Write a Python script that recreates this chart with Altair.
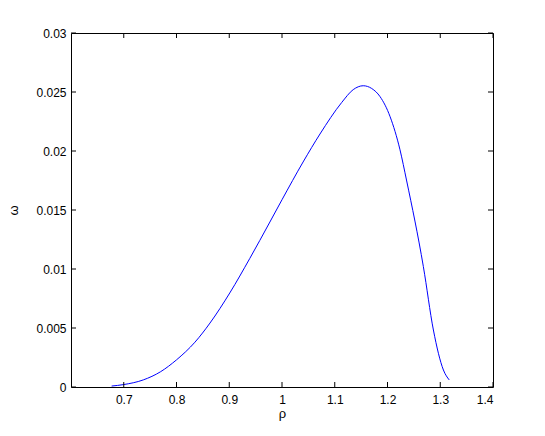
import altair as alt
import pandas as pd

rho = [0.677, 0.699, 0.737, 0.770, 0.800, 0.835, 0.8635, 0.901, 0.939, 0.977, 1.000,
       1.040, 1.072, 1.113, 1.135, 1.154, 1.170, 1.186, 1.205, 1.2237, 1.236,
       1.268, 1.287, 1.306, 1.317]
omega = [0.00008, 0.0002, 0.0006, 0.0013, 0.0023, 0.0038, 0.00542, 0.00797, 0.0109, 0.01398,
         0.01587, 0.01907, 0.02144, 0.0241, 0.0252, 0.02553, 0.0253, 0.0246, 0.0229,
         0.0201, 0.01754, 0.0102, 0.00483, 0.00144, 0.0006]

x_ticks = [0.7, 0.8, 0.9, 1.0, 1.1, 1.2, 1.3, 1.4]
y_ticks = [0, 0.005, 0.01, 0.015, 0.02, 0.025, 0.03]

W, H = 422, 354
TL = 5

df = pd.DataFrame({"rho": rho, "omega": omega})
xt = pd.DataFrame({"rho": x_ticks})
yt = pd.DataFrame({"omega": y_ticks})

xs = alt.Scale(domain=[0.6, 1.4], nice=False, zero=False)
ys = alt.Scale(domain=[0, 0.03], nice=False, zero=False)

x_axis = alt.Axis(values=x_ticks, format="~g", title="ρ", ticks=False, domain=False,
                  grid=False, labelPadding=7, titleY=26, titleBaseline="middle")
y_axis = alt.Axis(values=y_ticks, format="~g", title="ω", ticks=False, domain=False,
                  grid=False, labelPadding=5, titleX=-58, titleY=H / 2,
                  titleBaseline="middle", titleAlign="center")

line = alt.Chart(df).mark_line(color="#0000ff", strokeWidth=1, interpolate="monotone").encode(
    x=alt.X("rho:Q", scale=xs, axis=x_axis),
    y=alt.Y("omega:Q", scale=ys, axis=y_axis),
)

tick_style = dict(color="black", strokeWidth=1)
xb = alt.Chart(xt).mark_rule(**tick_style).encode(
    x=alt.X("rho:Q", scale=xs, axis=x_axis), y=alt.value(H), y2=alt.value(H - TL))
xtop = alt.Chart(xt).mark_rule(**tick_style).encode(
    x=alt.X("rho:Q", scale=xs, axis=x_axis), y=alt.value(0), y2=alt.value(TL))
yl = alt.Chart(yt).mark_rule(**tick_style).encode(
    y=alt.Y("omega:Q", scale=ys, axis=y_axis), x=alt.value(0), x2=alt.value(TL))
yr = alt.Chart(yt).mark_rule(**tick_style).encode(
    y=alt.Y("omega:Q", scale=ys, axis=y_axis), x=alt.value(W), x2=alt.value(W - TL))

chart = alt.layer(line, xb, xtop, yl, yr).properties(
    width=W, height=H,
    autosize=alt.AutoSizeParams(type="none"),
    padding={"left": 63, "top": 25, "right": 40, "bottom": 41},
    background="white",
).configure_view(stroke="black", strokeWidth=1).configure_axis(
    labelFont="Liberation Sans", labelFontSize=12, labelColor="black",
    titleFont="Liberation Sans", titleFontSize=13, titleFontWeight="normal", titleColor="black",
)

chart.save("out.html", embed_options={"renderer": "svg", "actions": False})
